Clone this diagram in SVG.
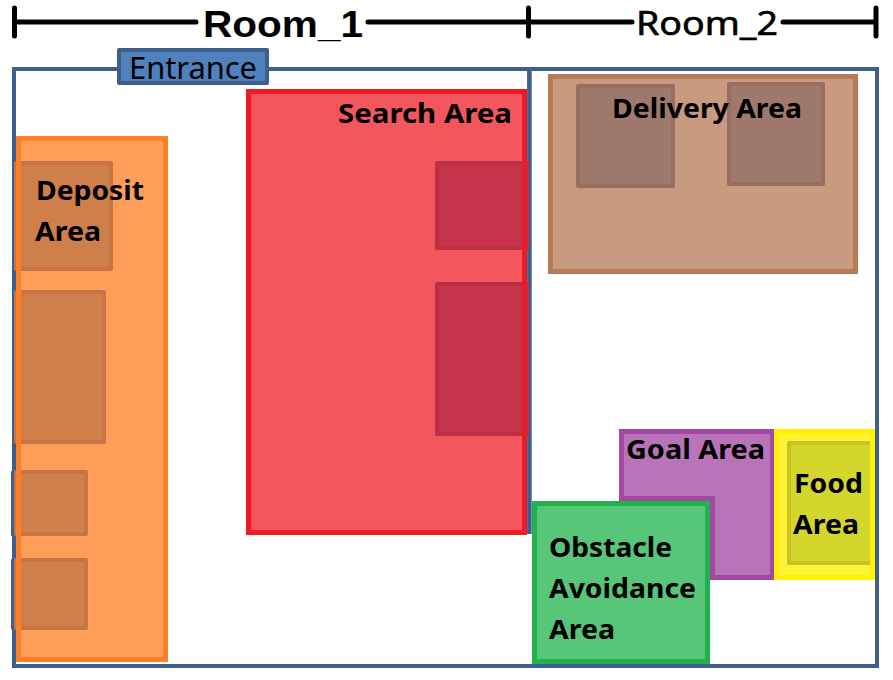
<svg xmlns="http://www.w3.org/2000/svg" width="893" height="680" viewBox="0 0 893 680">
<style>
text{font-family:"Noto Sans","Noto Sans CJK JP","DejaVu Sans",sans-serif;font-weight:700;font-size:27px;fill:#000}
.dim{stroke:#000;stroke-width:5;stroke-linecap:round;fill:none}
.wall{stroke:#3C5F8C;stroke-width:4;fill:none}
.area{stroke-width:5}
.o{fill:#CF7F49;stroke:#C87444;stroke-width:4;stroke-linejoin:round}
.r{fill:#C5344B;stroke:#BC2F44;stroke-width:4;stroke-linejoin:round}
.b{fill:#9F7A6C;stroke:#986E60;stroke-width:4;stroke-linejoin:round}
</style>
<rect width="893" height="680" fill="#fff"/>
<g id="dimensions">
<path class="dim" d="M14.500 8V36M528.500 8V36M876 8V36M14.500 22H196M368 22H528.500M528.500 22H632M783 22H876"/>
<text x="203" y="37" textLength="160" lengthAdjust="spacingAndGlyphs" style="font-family:'Liberation Sans',sans-serif;font-size:37px">Room_1</text>
<text x="636" y="35" textLength="142" lengthAdjust="spacingAndGlyphs" style="font-size:33px;font-weight:400;stroke:#000;stroke-width:.6">Room_2</text>
</g>
<g id="walls">
<rect class="wall" x="14" y="69" width="863" height="597"/>
<path d="M529.400 69V534" stroke="#3C5F8C" stroke-width="4.600" fill="none"/>
<path d="M12.500 472V535M12.500 560V628" stroke="#3C5F8C" stroke-width="3" stroke-linecap="round" fill="none"/>
</g>
<g id="entrance">
<rect x="119" y="50" width="148" height="33" fill="#4F81BD" stroke="#3C5F8C" stroke-width="4" stroke-linejoin="round"/>
<text x="129" y="79" textLength="128" lengthAdjust="spacingAndGlyphs" style="font-size:31px;font-weight:400">Entrance</text>
</g>
<g id="deposit-area">
<rect class="area" x="18.500" y="138.500" width="147" height="521" fill="#FF9E59" stroke="#FF7F27"/>
<path class="o" d="M16 163H111V269H16ZM16 292H104V442H16ZM16 472H86V534H16ZM16 560H86V628H16Z"/>
<path d="M18.500 138V662" stroke="#FF7F27" stroke-width="5"/>
<text x="36" y="200" textLength="108" lengthAdjust="spacingAndGlyphs">Deposit</text>
<text x="35" y="241" textLength="66" lengthAdjust="spacingAndGlyphs">Area</text>
</g>
<g id="search-area">
<rect class="area" x="248.500" y="91.500" width="276" height="441" fill="#F4565E" stroke="#ED1C24"/>
<path class="r" d="M437 163H527V248H437ZM437 284H527V434H437Z"/>
<path d="M524.500 89V535" stroke="#ED1C24" stroke-width="5"/>
<text x="338" y="123" textLength="174" lengthAdjust="spacingAndGlyphs">Search Area</text>
</g>
<g id="delivery-area">
<rect class="area" x="550.500" y="76.500" width="305" height="195" fill="#C89A7F" stroke="#B97A57"/>
<path class="b" d="M578 86H673V186H578ZM729 84H823V184H729Z"/>
<text x="612" y="118" textLength="190" lengthAdjust="spacingAndGlyphs">Delivery Area</text>
</g>
<g id="goal-area">
<path class="area" d="M621.500 431.500H772.500V577.500H712.500V498.500H621.500Z" fill="#B973B9" stroke="#A349A4"/>
<text x="626" y="459" textLength="139" lengthAdjust="spacingAndGlyphs">Goal Area</text>
</g>
<g id="food-area">
<rect class="area" x="776.500" y="431.500" width="96" height="146" fill="#FFF338" stroke="#FFF200"/>
<path d="M870 443H789V563H870Z" fill="#D4D62C" stroke="none"/>
<path d="M870 443H789V563H870" fill="none" stroke="#C9C322" stroke-width="4" stroke-linejoin="round"/>
<text x="794" y="493" textLength="69" lengthAdjust="spacingAndGlyphs">Food</text>
<text x="793" y="534" textLength="66" lengthAdjust="spacingAndGlyphs">Area</text>
</g>
<g id="obstacle-avoidance-area">
<rect class="area" x="534.500" y="503.500" width="173" height="158" fill="#58C678" stroke="#22B14C"/>
<text x="549" y="557" textLength="123" lengthAdjust="spacingAndGlyphs">Obstacle</text>
<text x="549" y="598" textLength="147" lengthAdjust="spacingAndGlyphs">Avoidance</text>
<text x="549" y="639" textLength="66" lengthAdjust="spacingAndGlyphs">Area</text>
</g>
</svg>
